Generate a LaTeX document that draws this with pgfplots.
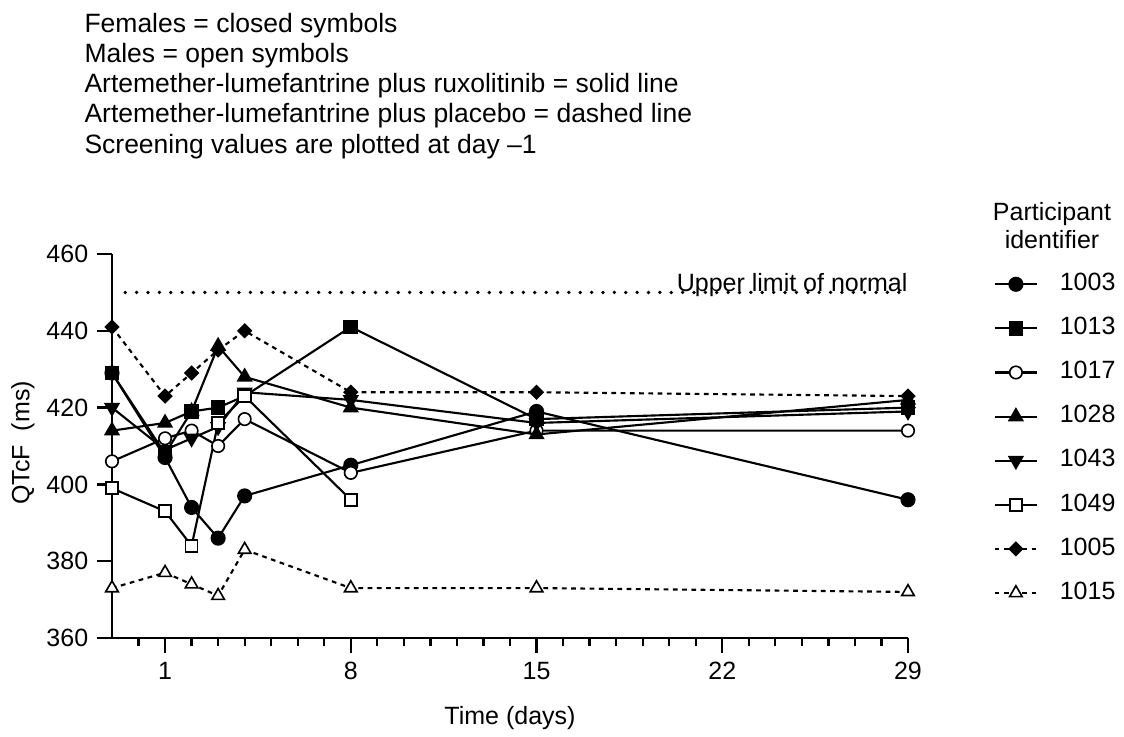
\documentclass[border=0pt]{standalone}
\usepackage{fontspec}
\setmainfont{Liberation Sans}
\usepackage{pgfplots}
\pgfplotsset{compat=1.18}
\begin{document}
\begin{tikzpicture}[font=\fontsize{10}{12}\selectfont]
\useasboundingbox (-44.8pt,-39.2pt) rectangle (404.8pt,255.2pt);
\begin{axis}[
  at={(0,0)}, anchor=south west, scale only axis,
  width=318.4pt, height=153.6pt,
  xmin=-1, xmax=29, ymin=360, ymax=460,
  axis lines=left,
  axis line style={-, line width=0.9pt},
  tick align=outside,
  major tick length=6pt, minor tick length=3pt,
  every tick/.style={line width=0.9pt, black},
  xtick={1,8,15,22,29},
  minor xtick={0,2,3,4,5,6,7,9,10,11,12,13,14,16,17,18,19,20,21,23,24,25,26,27,28},
  ytick={360,380,...,460},
  /pgf/number format/assume math mode=true,
  ticklabel style={font=\fontsize{10}{12}\selectfont},
  xlabel={Time (days)}, ylabel={QTcF\ \ (ms)},
  xlabel style={at={(axis description cs:0.5,-0.2083)}, anchor=center},
  ylabel style={at={(axis description cs:-0.1118,0.508)}, anchor=center},
  clip=false,
  every axis plot/.append style={line width=0.85pt, black},
  legend style={at={(axis description cs:1.1068,0.955)}, anchor=north west,
    draw=none, fill=none, inner sep=0pt, row sep=7.64pt,
    nodes={inner sep=0pt, text height=7.5pt, text depth=2.5pt}},
  legend cell align=left,
]
\addplot[mark=*, mark size=2.6pt] coordinates {(-1,429) (1,407) (2,394) (3,386) (4,397) (8,405) (15,419) (29,396)};
\addlegendentry{\hspace*{8.6pt}1003}
\addplot[mark=square*, mark size=2.5pt] coordinates {(-1,429) (1,408) (2,419) (3,420) (4,423) (8,441) (15,417) (29,420)};
\addlegendentry{\hspace*{8.6pt}1013}
\addplot[mark=*, mark size=2.5pt, mark options={fill=white, line width=0.65pt}] coordinates {(-1,406) (1,412) (2,414) (3,410) (4,417) (8,403) (15,414) (29,414)};
\addlegendentry{\hspace*{8.6pt}1017}
\addplot[mark=triangle*, mark size=2.9pt] coordinates {(-1,414) (1,416) (2,419) (3,436) (4,428) (8,420) (15,413) (29,422)};
\addlegendentry{\hspace*{8.6pt}1028}
\addplot[mark=triangle*, mark size=2.9pt, mark options={rotate=180}] coordinates {(-1,420) (1,409) (2,412) (3,415) (4,424) (8,422) (15,416) (29,419)};
\addlegendentry{\hspace*{8.6pt}1043}
\addplot[mark=square*, mark size=2.4pt, mark options={fill=white, line width=0.65pt}] coordinates {(-1,399) (1,393) (2,384) (3,416) (4,423) (8,396)};
\addlegendentry{\hspace*{8.6pt}1049}
\addplot[dash pattern=on 1.9pt off 1.8pt, mark=square*, mark size=1.75pt, mark options={solid, rotate=45}] coordinates {(-1,441) (1,423) (2,429) (3,435) (4,440) (8,424) (15,424) (29,423)};
\addlegendentry{\hspace*{8.6pt}1005}
\addplot[dash pattern=on 1.9pt off 1.8pt, mark=triangle*, mark size=2.9pt, mark options={solid, fill=white, line width=0.65pt}] coordinates {(-1,373) (1,377) (2,374) (3,371) (4,383) (8,373) (15,373) (29,372)};
\addlegendentry{\hspace*{8.6pt}1015}
\addplot[forget plot, line width=1.5pt, line cap=round, dash pattern=on 0pt off 4.55pt] coordinates {(-0.5,450) (29,450)};
\node[anchor=base east, inner sep=0pt] at (axis cs:29,450) [yshift=0.5pt] {Upper limit of normal};
\end{axis}
\node[anchor=base, inner sep=0pt] at (376pt,166.8pt) {Participant};
\node[anchor=base, inner sep=0pt] at (376pt,155.6pt) {identifier};
\begin{scope}[every node/.style={anchor=base west, inner sep=0pt, font=\fontsize{10.6}{12}\selectfont}]
\node at (-11.2pt,242.2pt) {Females = closed symbols};
\node at (-11.2pt,230.2pt) {Males = open symbols};
\node at (-11.2pt,218.2pt) {Artemether-lumefantrine plus ruxolitinib = solid line};
\node at (-11.2pt,206.2pt) {Artemether-lumefantrine plus placebo = dashed line};
\node at (-11.2pt,193.8pt) {Screening values are plotted at day –1};
\end{scope}
\end{tikzpicture}
\end{document}
